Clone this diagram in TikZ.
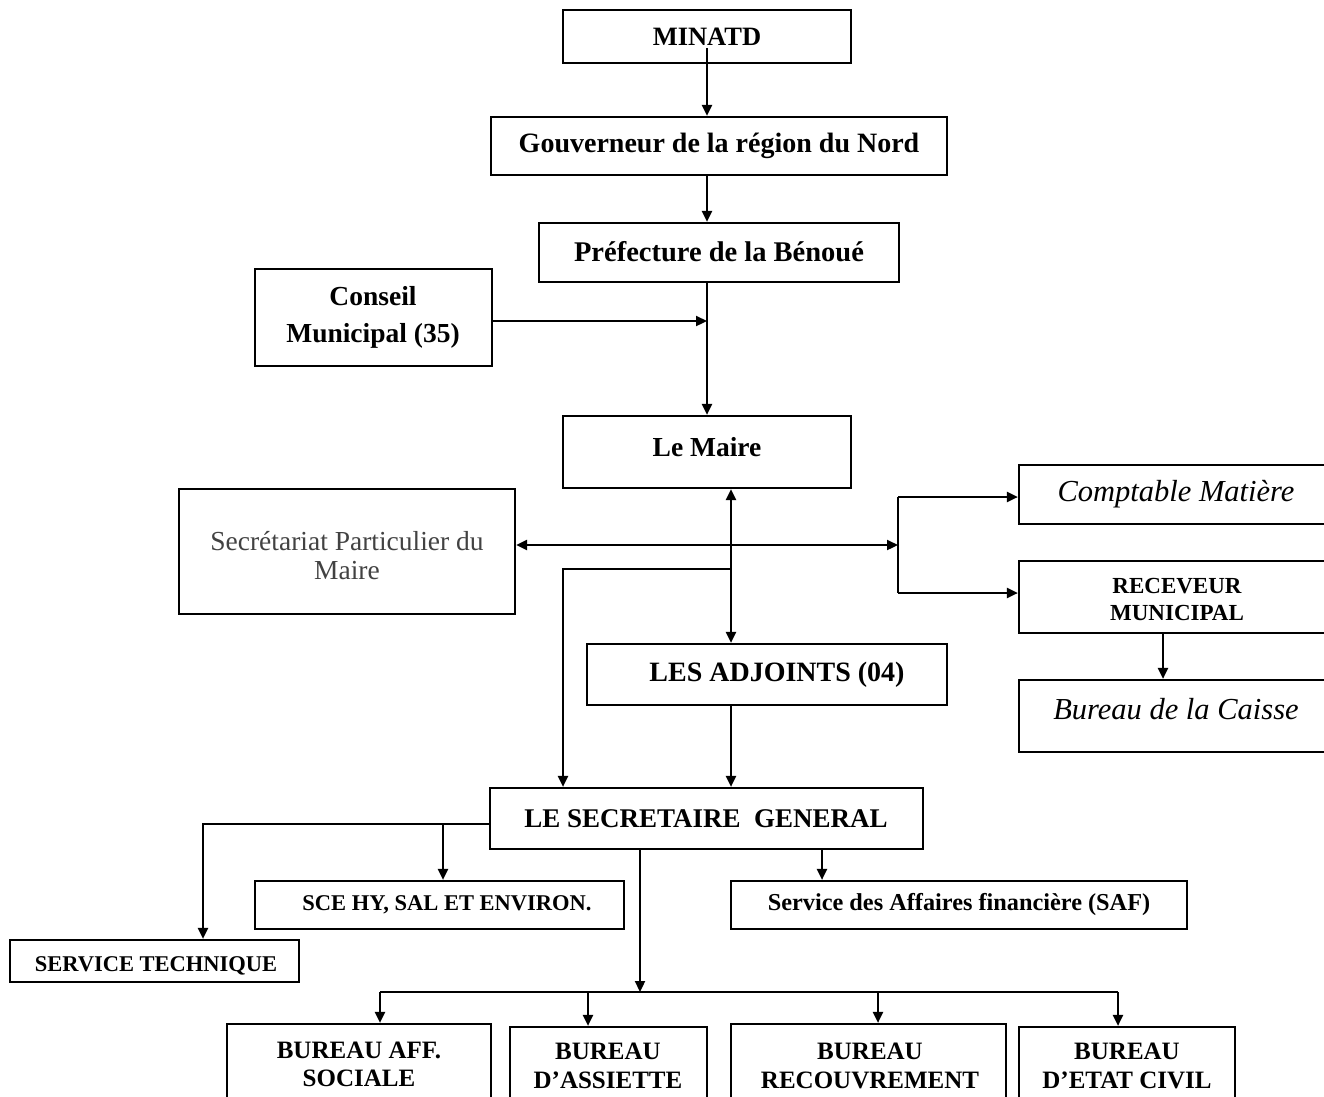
\documentclass[tikz,border=0pt]{standalone}
\usepackage{fontspec}
\setmainfont{Liberation Serif}
\usetikzlibrary{arrows.meta,fit}
\begin{document}
\begin{tikzpicture}[x=1pt,y=-1pt,
  box/.style={draw, line width=2.2pt, inner sep=0pt},
  tb/.style 2 args={font=\fontsize{#1}{#2}\selectfont\bfseries, align=center, inner sep=0pt},
  ti/.style={font=\fontsize{30.5}{34}\selectfont\itshape, align=center, inner sep=0pt},
  tg/.style={font=\fontsize{27.5}{29}\selectfont, text=black!74, align=center, inner sep=0pt},
  conn/.style={line width=2.2pt},
  arr/.style={conn, -{Triangle[length=11pt,width=10pt]}},
  darr/.style={conn, {Triangle[length=11pt,width=10pt]}-{Triangle[length=11pt,width=10pt]}}
]
\useasboundingbox (0,0) rectangle (1324,1096);
\clip (0,0) rectangle (1324,1096);

% boxes and texts
\node[box, fit={(563,10)(851,63)}] (minatd) {};
\node[tb={26.5}{30}] (tminatd) at (707,37) {MINATD};
\node[box, fit={(491,117)(947,175)}] (gouv) {};
\node[tb={28}{30}] (tgouv) at (719,146) {Gouverneur de la région du Nord};
\node[box, fit={(539,223)(899,282)}] (pref) {};
\node[tb={28.5}{30}] (tpref) at (719,252) {Préfecture de la Bénoué};
\node[box, fit={(255,269)(492,366)}] (conseil) {};
\node[tb={27.5}{37}] (tconseil) at (373,317) {Conseil\\Municipal (35)};
\node[box, fit={(563,416)(851,488)}] (maire) {};
\node[tb={27.5}{30}] (tmaire) at (707,447) {Le Maire};
\node[box, fit={(179,489)(515,614)}] (secp) {};
\node[tg] (tsecp) at (347,556) {Secrétariat Particulier du\\Maire};
\node[box, fit={(1019,465)(1340,524)}] (compt) {};
\node[ti] (tcompt) at (1176,494) {Comptable Matière};
\node[box, fit={(1019,561)(1340,633)}] (recev) {};
\node[tb={23}{27}] (trecev) at (1177,599) {RECEVEUR\\MUNICIPAL};
\node[box, fit={(1019,680)(1340,752)}] (caisse) {};
\node[ti] (tcaisse) at (1176,709) {Bureau de la Caisse};
\node[box, fit={(587,644)(947,705)}] (adj) {};
\node[tb={28}{30}] (tadj) at (777,675) {LES ADJOINTS (04)};
\node[box, fit={(490,788)(923,849)}] (sg) {};
\node[tb={27}{30}] (tsg) at (706,819) {LE SECRETAIRE \ GENERAL};
\node[box, fit={(255,881)(624,929)}] (sce) {};
\node[tb={22.5}{26}] (tsce) at (447,905) {SCE HY, SAL ET ENVIRON.};
\node[box, fit={(731,881)(1187,929)}] (saf) {};
\node[tb={24.3}{26}] (tsaf) at (959,905) {Service des Affaires financière (SAF)};
\node[box, fit={(10,940)(299,982)}] (tech) {};
\node[tb={22.5}{26}] (ttech) at (156,966) {SERVICE TECHNIQUE};
\node[box, fit={(227,1024)(491,1115)}] (aff) {};
\node[tb={25}{28}] (taff) at (359,1064) {BUREAU AFF.\\SOCIALE};
\node[box, fit={(510,1027)(707,1115)}] (ass) {};
\node[tb={25}{29}] (tass) at (608,1066) {BUREAU\\D’ASSIETTE};
\node[box, fit={(731,1024)(1006,1115)}] (rec) {};
\node[tb={25}{29}] (trec) at (870,1066) {BUREAU\\RECOUVREMENT};
\node[box, fit={(1019,1027)(1235,1115)}] (etat) {};
\node[tb={25}{29}] (tetat) at (1127,1066) {BUREAU\\D’ETAT CIVIL};

% coordinates
\coordinate (m0) at (707,48);
\coordinate (cj) at (707,321);
\coordinate (vm) at (731,569);
\coordinate (sgl) at (563,569);
\coordinate (fk) at (898,545);
\coordinate (fc) at (898,497);
\coordinate (fr) at (898,593);
\coordinate (rc) at (1163,633);
\coordinate (tl) at (203,824);
\coordinate (sl) at (443,824);
\coordinate (sa) at (822,849);
\coordinate (bus) at (640,992);
\coordinate (b1) at (380,992);
\coordinate (b2) at (588,992);
\coordinate (b3) at (878,992);
\coordinate (b4) at (1118,992);

% connectors
\draw[arr] (m0) -- (m0 |- gouv.north);
\draw[arr] (gouv.south -| m0) -- (pref.north -| m0);
\draw[arr] (pref.south -| m0) -- (maire.north -| m0);
\draw[arr] (conseil.east |- cj) -- (cj);
\draw[darr] (maire.south -| vm) -- (adj.north -| vm);
\draw[darr] (secp.east |- fk) -- (fk);
\draw[conn] (fc) -- (fr);
\draw[arr] (fc) -- (fc -| compt.west);
\draw[arr] (fr) -- (fr -| recev.west);
\draw[arr] (rc) -- (rc |- caisse.north);
\draw[arr] (vm) -- (sgl) -- (sgl |- sg.north);
\draw[arr] (adj.south -| vm) -- (sg.north -| vm);
\draw[arr] (sg.west |- tl) -- (tl) -- (tl |- tech.north);
\draw[arr] (sl) -- (sl |- sce.north);
\draw[arr] (sa) -- (sa |- saf.north);
\draw[arr] (sg.south -| bus) -- (bus);
\draw[conn] (b1) -- (b4);
\draw[arr] (b1) -- (b1 |- aff.north);
\draw[arr] (b2) -- (b2 |- ass.north);
\draw[arr] (b3) -- (b3 |- rec.north);
\draw[arr] (b4) -- (b4 |- etat.north);
\end{tikzpicture}
\end{document}
